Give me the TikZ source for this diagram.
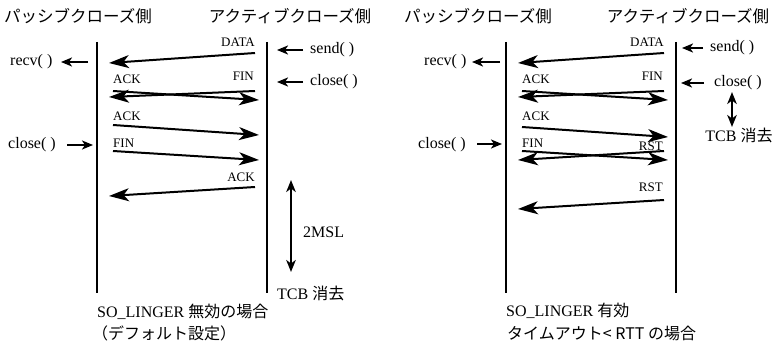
\documentclass[tikz,border=0pt]{standalone}
\usepackage{fontspec}
\setmainfont{Liberation Serif}
\newfontfamily\jp{Noto Sans CJK JP}
\usetikzlibrary{arrows.meta}
\begin{document}
\begin{tikzpicture}[x=1pt,y=-1pt,
 lifeline/.style={line width=2.6pt},
 msg/.style={line width=2pt,-{Stealth[length=20pt,width=13pt,inset=5.5pt]}},
 call/.style={line width=2pt,-{Stealth[length=11pt,width=9pt,inset=3pt]}},
 dbl/.style={line width=2pt,{Stealth[length=12pt,width=9.5pt,inset=3.5pt]}-{Stealth[length=12pt,width=9.5pt,inset=3.5pt]}},
 lbl/.style={font=\fontsize{13}{13}\selectfont, inner sep=0pt},
 big/.style={font=\fontsize{16}{16}\selectfont, inner sep=0pt},
 head/.style={font=\jp\fontsize{16.5}{16.5}\selectfont, inner sep=0pt},
 captxt/.style={font=\fontsize{16}{20}\selectfont, inner sep=0pt, anchor=west},
]
\useasboundingbox (0,0) rectangle (772,345);

% ================= LEFT DIAGRAM =================
\node[head] (Lh1) at (78,16) {パッシブクローズ側};
\node[head] (Lh2) at (290,16) {アクティブクローズ側};

\coordinate (LpT) at (97,42);  \coordinate (LpB) at (97,293);
\coordinate (LaT) at (267,42); \coordinate (LaB) at (267,293);
\draw[lifeline] (LpT) -- (LpB);
\draw[lifeline] (LaT) -- (LaB);

% DATA
\node[lbl,anchor=east] (Ldata) at (255,42) {DATA};
\coordinate (Ld1s) at (255,53); \coordinate (Ld1e) at (109,63);
\draw[msg] (Ld1s) -- (Ld1e);
% send()
\node[big,anchor=west] (Lsend) at (310,50) {send( )};
\coordinate (Lsendt) at (303,50); \coordinate (Lsendh) at (277,50);
\draw[call] (Lsendt) -- (Lsendh);
% recv()
\node[big,anchor=west] (Lrecv) at (10,62) {recv( )};
\coordinate (Lrecvt) at (88,62); \coordinate (Lrecvh) at (61,62);
\draw[call] (Lrecvt) -- (Lrecvh);
% close() active
\node[big,anchor=west] (Lclosea) at (310,82) {close( )};
\coordinate (Lcloseat) at (303,82); \coordinate (Lcloseah) at (277,82);
\draw[call] (Lcloseat) -- (Lcloseah);
% crossing ACK / FIN
\node[lbl,anchor=west] (Lack1) at (113,79) {ACK};
\node[lbl,anchor=east] (Lfin1) at (254,76) {FIN};
\coordinate (Lf1s) at (255,91); \coordinate (Lf1e) at (109,97);
\coordinate (La1s) at (113,91); \coordinate (La1e) at (259,100);
\draw[msg] (Lf1s) -- (Lf1e);
\draw[msg] (La1s) -- (La1e);
% ACK
\node[lbl,anchor=west] (Lack2) at (113,116) {ACK};
\coordinate (La2s) at (113,125); \coordinate (La2e) at (259,135);
\draw[msg] (La2s) -- (La2e);
% close() passive
\node[big,anchor=west] (Lclosep) at (8,145) {close( )};
\coordinate (Lclosept) at (67,145); \coordinate (Lcloseph) at (93,145);
\draw[call] (Lclosept) -- (Lcloseph);
% FIN
\node[lbl,anchor=west] (Lfin2) at (113,143) {FIN};
\coordinate (Lf2s) at (113,151); \coordinate (Lf2e) at (259,160);
\draw[msg] (Lf2s) -- (Lf2e);
% ACK last
\node[lbl,anchor=east] (Lack3) at (255,177) {ACK};
\coordinate (La3s) at (255,187); \coordinate (La3e) at (109,196);
\draw[msg] (La3s) -- (La3e);
% 2MSL
\coordinate (Lmt) at (291,180); \coordinate (Lmb) at (291,272);
\draw[dbl] (Lmt) -- (Lmb);
\node[big,anchor=west] (Lmsl) at (303,232) {2MSL};
\node[big,anchor=west] (Ltcb) at (277,293) {TCB {\jp 消去}};
% caption
\node[captxt] (Lcap1) at (97,312) {SO\_LINGER {\jp 無効の場合}};
\node[captxt] (Lcap2) at (92,333) {\jp （デフォルト設定）};

% ================= RIGHT DIAGRAM =================
\node[head] (Rh1) at (478,16) {パッシブクローズ側};
\node[head] (Rh2) at (688,16) {アクティブクローズ側};

\coordinate (RpT) at (506,42);  \coordinate (RpB) at (506,293);
\coordinate (RaT) at (676,42);  \coordinate (RaB) at (676,293);
\draw[lifeline] (RpT) -- (RpB);
\draw[lifeline] (RaT) -- (RaB);

% DATA
\node[lbl,anchor=east] (Rdata) at (664,42) {DATA};
\coordinate (Rd1s) at (664,53); \coordinate (Rd1e) at (518,63);
\draw[msg] (Rd1s) -- (Rd1e);
% send()
\node[big,anchor=west] (Rsend) at (710,48) {send( )};
\coordinate (Rsendt) at (703,48); \coordinate (Rsendh) at (682,48);
\draw[call] (Rsendt) -- (Rsendh);
% recv()
\node[big,anchor=west] (Rrecv) at (424,62) {recv( )};
\coordinate (Rrecvt) at (500,62); \coordinate (Rrecvh) at (472,62);
\draw[call] (Rrecvt) -- (Rrecvh);
% close() active
\node[big,anchor=west] (Rclosea) at (714,83) {close( )};
\coordinate (Rcloseat) at (704,83); \coordinate (Rcloseah) at (681,83);
\draw[call] (Rcloseat) -- (Rcloseah);
% crossing ACK / FIN
\node[lbl,anchor=west] (Rack1) at (522,79) {ACK};
\node[lbl,anchor=east] (Rfin1) at (663,76) {FIN};
\coordinate (Rf1s) at (664,91); \coordinate (Rf1e) at (518,97);
\coordinate (Ra1s) at (522,91); \coordinate (Ra1e) at (668,100);
\draw[msg] (Rf1s) -- (Rf1e);
\draw[msg] (Ra1s) -- (Ra1e);
% TCB delete (short double arrow)
\coordinate (Rmt) at (732,92); \coordinate (Rmb) at (732,127);
\draw[dbl] (Rmt) -- (Rmb);
\node[big] (Rtcb) at (739,135) {TCB {\jp 消去}};
% ACK
\node[lbl,anchor=west] (Rack2) at (522,116) {ACK};
\coordinate (Ra2s) at (522,127); \coordinate (Ra2e) at (668,137);
\draw[msg] (Ra2s) -- (Ra2e);
% close() passive
\node[big,anchor=west] (Rclosep) at (418,145) {close( )};
\coordinate (Rclosept) at (477,144); \coordinate (Rcloseph) at (502,144);
\draw[call] (Rclosept) -- (Rcloseph);
% FIN / RST crossing
\node[lbl,anchor=west] (Rfin2) at (522,143) {FIN};
\node[lbl,anchor=east] (Rrst1) at (663,146) {RST};
\coordinate (Rf2s) at (522,151); \coordinate (Rf2e) at (668,160);
\coordinate (Rr1s) at (664,151); \coordinate (Rr1e) at (518,160);
\draw[msg] (Rf2s) -- (Rf2e);
\draw[msg] (Rr1s) -- (Rr1e);
% RST last
\node[lbl,anchor=east] (Rrst2) at (663,187) {RST};
\coordinate (Rr2s) at (664,200); \coordinate (Rr2e) at (518,209);
\draw[msg] (Rr2s) -- (Rr2e);
% caption
\node[captxt] (Rcap1) at (506,311) {SO\_LINGER {\jp 有効}};
\node[captxt] (Rcap2) at (507,333) {\jp タイムアウト< RTT の場合};
\end{tikzpicture}
\end{document}
